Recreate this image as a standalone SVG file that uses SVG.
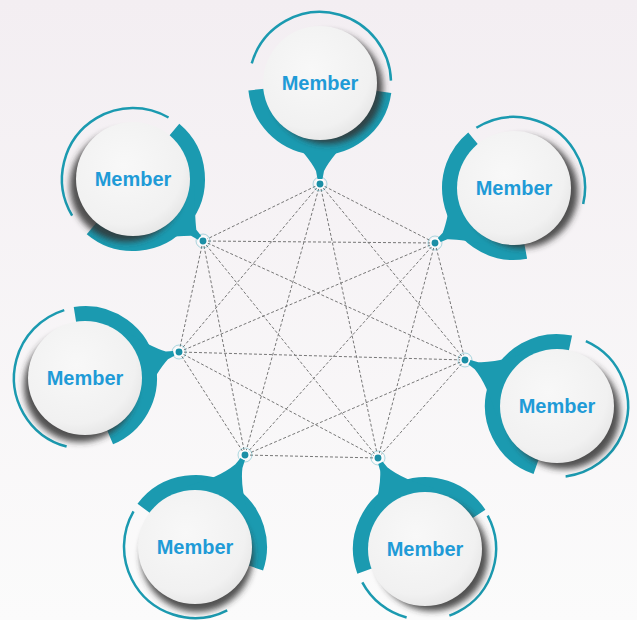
<svg xmlns="http://www.w3.org/2000/svg" width="637" height="620" viewBox="0 0 637 620">
  <defs>
    <linearGradient id="bg" x1="0" y1="0" x2="0" y2="1">
      <stop offset="0" stop-color="#f3eef2"/>
      <stop offset="1" stop-color="#fbfbfb"/>
    </linearGradient>
    <radialGradient id="face" cx="0.42" cy="0.38" r="0.65">
      <stop offset="0" stop-color="#f8f8f8"/>
      <stop offset="0.8" stop-color="#f1f1f1"/>
      <stop offset="1" stop-color="#e6e6e6"/>
    </radialGradient>
    <filter id="soft" x="-30%" y="-30%" width="160%" height="160%">
      <feGaussianBlur stdDeviation="3"/>
    </filter>
    <style>
      .thin { fill: none; stroke: #1b9ab0; stroke-width: 2.5; }
      .band { fill: none; stroke: #1b9ab0; stroke-width: 16; }
      .pin { fill: #1b9ab0; }
      .shade { fill: #333333; fill-opacity: 0.85; filter: url(#soft); }
      .face { fill: url(#face); }
      .label { font-family: "Liberation Sans", Arial, sans-serif; font-weight: bold; font-size: 20px; fill: #1f9bd7; text-anchor: middle; }
      .links line { stroke: #777777; stroke-width: 1; stroke-dasharray: 3 2; }
      .dot { fill: #1b8fa6; stroke: #ffffff; stroke-width: 1.5; }
      .halo { fill: none; stroke: #1b9ab0; stroke-opacity: 0.35; stroke-width: 1; }
    </style>
  </defs>

  <rect width="637" height="620" fill="url(#bg)"/>

  <!-- connectors: every hub linked to every other hub -->
  <g id="connectors" class="links">
    <line x1="320" y1="184" x2="203" y2="241"/>
    <line x1="320" y1="184" x2="435" y2="243"/>
    <line x1="320" y1="184" x2="179" y2="352"/>
    <line x1="320" y1="184" x2="465" y2="360"/>
    <line x1="320" y1="184" x2="245" y2="455"/>
    <line x1="320" y1="184" x2="378" y2="458"/>
    <line x1="203" y1="241" x2="435" y2="243"/>
    <line x1="203" y1="241" x2="179" y2="352"/>
    <line x1="203" y1="241" x2="465" y2="360"/>
    <line x1="203" y1="241" x2="245" y2="455"/>
    <line x1="203" y1="241" x2="378" y2="458"/>
    <line x1="435" y1="243" x2="179" y2="352"/>
    <line x1="435" y1="243" x2="465" y2="360"/>
    <line x1="435" y1="243" x2="245" y2="455"/>
    <line x1="435" y1="243" x2="378" y2="458"/>
    <line x1="179" y1="352" x2="465" y2="360"/>
    <line x1="179" y1="352" x2="245" y2="455"/>
    <line x1="179" y1="352" x2="378" y2="458"/>
    <line x1="465" y1="360" x2="245" y2="455"/>
    <line x1="465" y1="360" x2="378" y2="458"/>
    <line x1="245" y1="455" x2="378" y2="458"/>
  </g>

  <!-- member nodes: outer thin ring, thick band, pin toward hub, shadowed disc, label -->
  <g id="node-top" transform="translate(320,83)">
    <circle class="thin" r="71" pathLength="360" stroke-dasharray="162 999" transform="rotate(196)"/>
    <circle class="band" r="64" pathLength="360" stroke-dasharray="166 999" transform="rotate(8)"/>
    <path class="pin" transform="rotate(90)" d="M50,-36 Q72,-12 88,-4 L96,-2.5 L96,2.5 L88,4 Q72,12 50,36 Z"/>
    <circle class="shade" cx="7" cy="5" r="56"/>
    <circle class="face" r="57"/>
    <text class="label" y="7">Member</text>
  </g>

  <g id="node-upper-left" transform="translate(133,179)">
    <circle class="thin" r="71" pathLength="360" stroke-dasharray="151 999" transform="rotate(149)"/>
    <circle class="band" r="64" pathLength="360" stroke-dasharray="180 999" transform="rotate(-50)"/>
    <path class="pin" transform="rotate(41.5)" d="M50,-36 Q72,-12 81,-4 L89,-2.5 L89,2.5 L81,4 Q72,12 50,36 Z"/>
    <circle class="shade" cx="-7" cy="7" r="56"/>
    <circle class="face" r="57"/>
    <text class="label" y="7">Member</text>
  </g>

  <g id="node-upper-right" transform="translate(514,188)">
    <circle class="thin" r="71" pathLength="360" stroke-dasharray="135 999" transform="rotate(238)"/>
    <circle class="band" r="64" pathLength="360" stroke-dasharray="151 999" transform="rotate(79.5)"/>
    <path class="pin" transform="rotate(145.2)" d="M50,-36 Q72,-12 84,-4 L91,-2.5 L91,2.5 L84,4 Q72,12 50,36 Z"/>
    <circle class="shade" cx="8" cy="4" r="56"/>
    <circle class="face" r="57"/>
    <text class="label" y="7">Member</text>
  </g>

  <g id="node-left" transform="translate(85,378)">
    <circle class="thin" r="71" pathLength="360" stroke-dasharray="148 999" transform="rotate(105)"/>
    <circle class="band" r="64" pathLength="360" stroke-dasharray="166 999" transform="rotate(-99)"/>
    <path class="pin" transform="rotate(-15.5)" d="M50,-36 Q72,-12 85,-4 L92,-2.5 L92,2.5 L85,4 Q72,12 50,36 Z"/>
    <circle class="shade" cx="-5" cy="8" r="56"/>
    <circle class="face" r="57"/>
    <text class="label" y="7">Member</text>
  </g>

  <g id="node-right" transform="translate(557,406)">
    <circle class="thin" r="71" pathLength="360" stroke-dasharray="149 999" transform="rotate(294)"/>
    <circle class="band" r="64" pathLength="360" stroke-dasharray="173 999" transform="rotate(109)"/>
    <path class="pin" transform="rotate(206.6)" d="M50,-36 Q72,-12 90,-4 L98,-2.5 L98,2.5 L90,4 Q72,12 50,36 Z"/>
    <circle class="shade" cx="7" cy="7" r="56"/>
    <circle class="face" r="57"/>
    <text class="label" y="7">Member</text>
  </g>

  <g id="node-bottom-left" transform="translate(195,547)">
    <circle class="thin" r="71" pathLength="360" stroke-dasharray="147 999" transform="rotate(63)"/>
    <circle class="band" r="64" pathLength="360" stroke-dasharray="162 999" transform="rotate(217)"/>
    <path class="pin" transform="rotate(-61.5)" d="M50,-36 Q72,-12 92,-4 L100,-2.5 L100,2.5 L92,4 Q72,12 50,36 Z"/>
    <circle class="shade" cx="2" cy="9" r="56"/>
    <circle class="face" r="57"/>
    <text class="label" y="7">Member</text>
  </g>

  <g id="node-bottom-right" transform="translate(425,549)">
    <circle class="thin" r="71" pathLength="360" stroke-dasharray="98 999" transform="rotate(332)"/>
    <circle class="thin" r="71" pathLength="360" stroke-dasharray="47 999" transform="rotate(105)"/>
    <circle class="band" r="64" pathLength="360" stroke-dasharray="167 999" transform="rotate(160)"/>
    <path class="pin" transform="rotate(242.7)" d="M50,-36 Q72,-12 90,-4 L97,-2.5 L97,2.5 L90,4 Q72,12 50,36 Z"/>
    <circle class="shade" cx="7" cy="6" r="56"/>
    <circle class="face" r="57"/>
    <text class="label" y="7">Member</text>
  </g>

  <!-- hub dots where the pins meet the connectors -->
  <g id="hubs">
    <circle class="halo" cx="320" cy="184" r="7"/><circle class="dot" cx="320" cy="184" r="4.2"/>
    <circle class="halo" cx="203" cy="241" r="7"/><circle class="dot" cx="203" cy="241" r="4.2"/>
    <circle class="halo" cx="435" cy="243" r="7"/><circle class="dot" cx="435" cy="243" r="4.2"/>
    <circle class="halo" cx="179" cy="352" r="7"/><circle class="dot" cx="179" cy="352" r="4.2"/>
    <circle class="halo" cx="465" cy="360" r="7"/><circle class="dot" cx="465" cy="360" r="4.2"/>
    <circle class="halo" cx="245" cy="455" r="7"/><circle class="dot" cx="245" cy="455" r="4.2"/>
    <circle class="halo" cx="378" cy="458" r="7"/><circle class="dot" cx="378" cy="458" r="4.2"/>
  </g>
</svg>
